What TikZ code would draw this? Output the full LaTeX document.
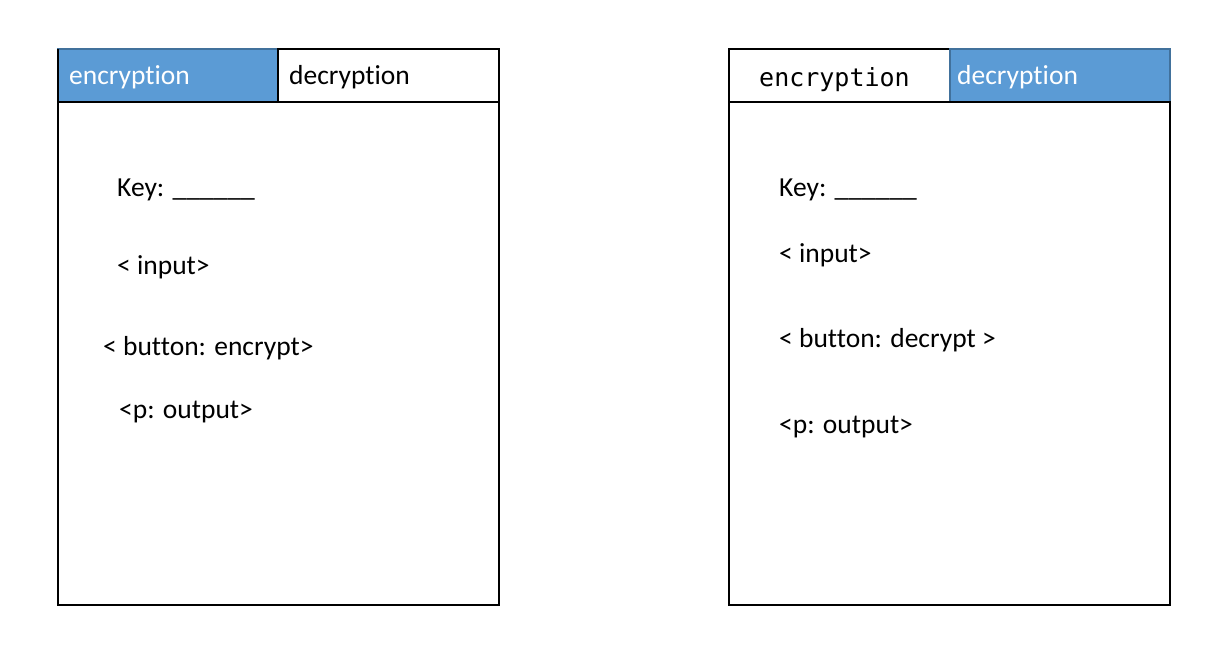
\documentclass[tikz,border=0pt]{standalone}
\usepackage{fontspec}
\setmainfont{Carlito}[Ligatures={NoCommon,TeX}]
\newfontfamily\monofont{DejaVu Sans Mono}
\definecolor{tabblue}{HTML}{5B9BD5}
\definecolor{tabedge}{HTML}{41719C}
\begin{document}
\begin{tikzpicture}[x=1pt,y=-1pt,
  frame/.style={draw=black,line width=1.8pt},
  bluetab/.style={fill=tabblue,draw=tabedge,line width=1.3pt},
  lbl/.style={anchor=base west,inner sep=0pt,font=\fontsize{27.5}{32}\selectfont},
  wlbl/.style={lbl,text=white},
  mlbl/.style={anchor=base west,inner sep=0pt,font=\monofont\fontsize{25}{29}\selectfont}]
\useasboundingbox (0,0) rectangle (1228,652);
\fill[white] (0,0) rectangle (1228,652);
% left panel
\draw[bluetab] (58,49) rectangle (278,102);
\draw[frame] (278,49) rectangle (499,102);
\draw[frame] (58,102) rectangle (499,605);
\draw[frame] (58,102) -- (58,49);
\node[wlbl] (lenc) at (69,85) {encryption};
\node[lbl] (ldec) at (289,85) {decryption};
\node[lbl] (lkey) at (117,197) {Key: \_\_\_\_\_\_};
\node[lbl] (lin) at (117,274) {< input>};
\node[lbl] (lbtn) at (103,355) {< button: encrypt>};
\node[lbl] (lout) at (119,418) {<p: output>};
% right panel
\draw[frame] (729,49) rectangle (950,102);
\draw[bluetab] (950,49) rectangle (1170,102);
\draw[frame] (729,102) rectangle (1170,605);
\node[mlbl] (renc) at (759,87) {encryption};
\node[wlbl] (rdec) at (957,85) {decryption};
\node[lbl] (rkey) at (779,197) {Key: \_\_\_\_\_\_};
\node[lbl] (rin) at (779,262) {< input>};
\node[lbl] (rbtn) at (779,347) {< button: decrypt >};
\node[lbl] (rout) at (779,433) {<p: output>};
\end{tikzpicture}
\end{document}
